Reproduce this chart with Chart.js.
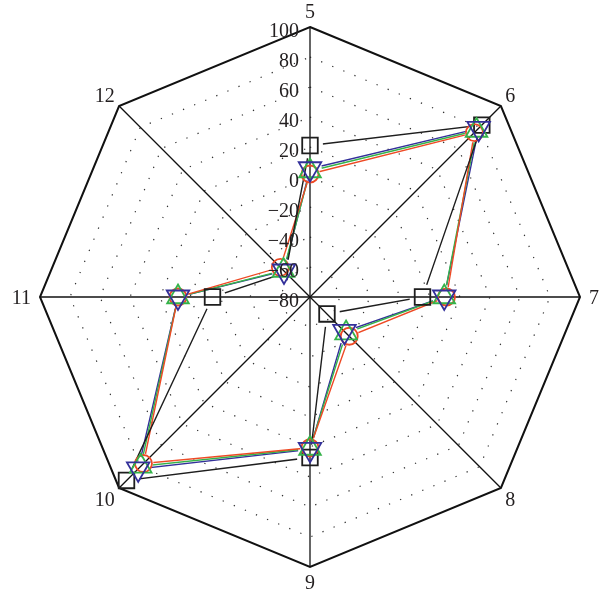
<!DOCTYPE html>
<html>
<head>
<meta charset="utf-8">
<style>
  html, body { margin: 0; padding: 0; background: #fff; }
  canvas { display: block; }
</style>
<script src="https://cdn.jsdelivr.net/npm/chart.js@4.4.1/dist/chart.umd.min.js"></script>
</head>
<body>
<canvas id="radar" width="602" height="595"></canvas>
<script>
// Axis categories (clockwise from the top)
const categories = ['5', '6', '7', '8', '9', '10', '11', '12'];

// Radial scale ticks
const tickValues = [-80, -60, -40, -20, 0, 20, 40, 60, 80, 100];

// Series values, one per category
const squareSeries   = [21, 82, -5, -64, 27, 93, -15, -57];
const circleSeries   = [2, 75, 11, -43, 20.5, 77, 8, -52];
const upTriSeries    = [4, 77, 9.5, -46, 21, 79.6, 8, -55];
const downTriSeries  = [5.5, 79, 9.5, -47.5, 21.6, 82, 8, -55.5];

const FONT = '20px "Liberation Serif", "Times New Roman", serif';
const TEXT = '#231f20';
const DIGIT_H = 13.4;

const RED = '#ee4a25';
const GREEN = '#35b34a';
const BLUE = '#33309a';
const BLACK = '#1e1e1e';

// Lines leave a small gap around each of their own symbols
const symbolGap = {
  id: 'symbolGap',
  beforeDatasetDraw(chart, args) {
    const ds = chart.data.datasets[args.index];
    if (!ds.gap) return;
    const ctx = chart.ctx;
    ctx.save();
    ctx.beginPath();
    ctx.rect(0, 0, chart.width, chart.height);
    args.meta.data.forEach(p => {
      ctx.moveTo(p.x + ds.gap, p.y);
      ctx.arc(p.x, p.y, ds.gap, 0, Math.PI * 2);
    });
    ctx.clip('evenodd');
  },
  afterDatasetDraw(chart, args) {
    const ds = chart.data.datasets[args.index];
    if (!ds.gap) return;
    chart.ctx.restore();
  }
};

// Category names at the vertices and tick values along the top spoke
const axisText = {
  id: 'axisText',
  afterDraw(chart) {
    const r = chart.scales.r;
    const ctx = chart.ctx;
    ctx.save();
    ctx.font = FONT;
    ctx.fillStyle = TEXT;
    ctx.textBaseline = 'alphabetic';

    ctx.textAlign = 'center';
    chart.data.labels.forEach((lab, i) => {
      const a = r.getIndexAngle(i);
      const s = Math.sin(a), c = Math.cos(a);
      const sx = Math.abs(s) < 1e-6 ? 0 : Math.sign(s);
      const sy = Math.abs(c) < 1e-6 ? 0 : -Math.sign(c);
      const diag = sx !== 0 && sy !== 0;
      const p = r.getPointPosition(i, r.drawingArea + (diag ? 6 : 9));
      const w = ctx.measureText(lab).width;
      const cx = p.x + sx * w / 2;
      const cy = p.y + sy * DIGIT_H / 2;
      ctx.fillText(lab, cx, cy + DIGIT_H / 2);
    });

    ctx.textAlign = 'right';
    tickValues.forEach(v => {
      const d = r.getDistanceFromCenterForValue(v);
      const txt = String(v).replace('-', '\u2212');
      ctx.fillText(txt, r.xCenter - 11, r.yCenter - d + 3 + DIGIT_H / 2);
    });
    ctx.restore();
  }
};

function lineSet(values, color, gap) {
  return {
    data: values,
    borderColor: color,
    borderWidth: 1.4,
    fill: false,
    pointRadius: 0,
    pointHitRadius: 0,
    gap: gap,
    order: 10
  };
}

function symbolSet(values, color, style, radius, extra) {
  return Object.assign({
    data: values,
    showLine: false,
    fill: false,
    borderColor: color,
    pointStyle: style,
    pointRadius: radius,
    pointBorderColor: color,
    pointBackgroundColor: 'rgba(255,255,255,0)',
    pointBorderWidth: 1.8,
    pointHoverRadius: radius
  }, extra || {});
}

new Chart(document.getElementById('radar'), {
  type: 'radar',
  data: {
    labels: categories,
    datasets: [
      lineSet(squareSeries, BLACK, 13),
      lineSet(circleSeries, RED, 10),
      lineSet(upTriSeries, GREEN, 12),
      lineSet(downTriSeries, BLUE, 12),
      symbolSet(squareSeries, BLACK, 'rect', 11, {
        order: 4,
        // the square at "12" sits hidden under the other symbols' cluster
        pointRadius: ctx => ctx.dataIndex === 7 ? 0 : 11
      }),
      symbolSet(circleSeries, RED, 'circle', 8.5, { order: 3 }),
      symbolSet(upTriSeries, GREEN, 'triangle', 12.5, { order: 2 }),
      symbolSet(downTriSeries, BLUE, 'triangle', 13, { order: 1, pointRotation: 180 })
    ]
  },
  options: {
    responsive: false,
    animation: false,
    layout: { padding: { left: 40, right: 22, top: 27, bottom: 28 } },
    plugins: {
      legend: { display: false },
      tooltip: { enabled: false }
    },
    scales: {
      r: {
        min: tickValues[0],
        max: tickValues[tickValues.length - 1],
        ticks: { stepSize: 20, display: false },
        pointLabels: { display: false },
        angleLines: { color: '#111', lineWidth: 1.3 },
        grid: {
          color: ctx => ctx.tick && ctx.tick.value === 100 ? '#111' : '#333',
          lineWidth: ctx => ctx.tick && ctx.tick.value === 100 ? 2 : 1.2
        },
        border: {
          dash: ctx => ctx.tick && ctx.tick.value === 100 ? [] : [1.3, 10.7]
        }
      }
    }
  },
  plugins: [symbolGap, axisText]
});
</script>
</body>
</html>
